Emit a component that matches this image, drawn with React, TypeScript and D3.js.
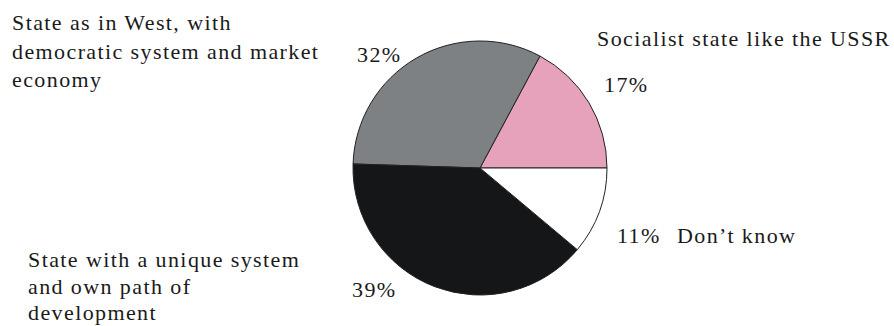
import React from "react";
import * as d3 from "d3";

const categories = [
  "Socialist state like the USSR",
  "State as in West, with democratic system and market economy",
  "State with a unique system and own path of development",
  "Don’t know",
];
const values = [17, 32, 39, 11];
const categoryLines = [
  ["Socialist state like the USSR"],
  ["State as in West, with", "democratic system and market", "economy"],
  ["State with a unique system", "and own path of", "development"],
  ["Don’t know"],
];
const colors = ["#e6a2ba", "#7e8184", "#151618", "#ffffff"];

const W = 894;
const H = 326;
const cx = 480;
const cy = 168;
const R = 127;

// layout of text (positions, not data)
const catPos = [
  { x: 597, y: 46, lh: 28 },
  { x: 12, y: 30, lh: 28.5 },
  { x: 28, y: 267, lh: 26.5 },
  { x: 677, y: 243, lh: 28 },
];
const pctPos = [
  { x: 604, y: 92 },
  { x: 357, y: 62 },
  { x: 352, y: 297 },
  { x: 617, y: 243 },
];

const font = "'Liberation Serif', 'Times New Roman', serif";

export default function App() {
  const pie = d3
    .pie<number>()
    .sort(null)
    .startAngle(Math.PI / 2)
    .endAngle(Math.PI / 2 - 2 * Math.PI)(values);
  const arc = d3.arc<d3.PieArcDatum<number>>().innerRadius(0).outerRadius(R);

  return (
    <svg
      width={W}
      height={H}
      style={{ position: "absolute", left: 0, top: 0, background: "#fff" }}
    >
      <g transform={`translate(${cx},${cy})`}>
        {pie.map((d, i) => (
          <path
            key={categories[i]}
            d={arc(d) || ""}
            fill={colors[i]}
            stroke="#222"
            strokeWidth={1}
          />
        ))}
      </g>
      <g fontFamily={font} fontSize={22} fill="#1a1a1a" letterSpacing={1.4}>
        {categoryLines.map((lines, i) => (
          <text key={i} x={catPos[i].x} y={catPos[i].y}>
            {lines.map((l, j) => (
              <tspan key={j} x={catPos[i].x} dy={j === 0 ? 0 : catPos[i].lh}>
                {l}
              </tspan>
            ))}
          </text>
        ))}
        {values.map((v, i) => (
          <text key={"p" + i} x={pctPos[i].x} y={pctPos[i].y}>
            {`${v}%`}
          </text>
        ))}
      </g>
    </svg>
  );
}
